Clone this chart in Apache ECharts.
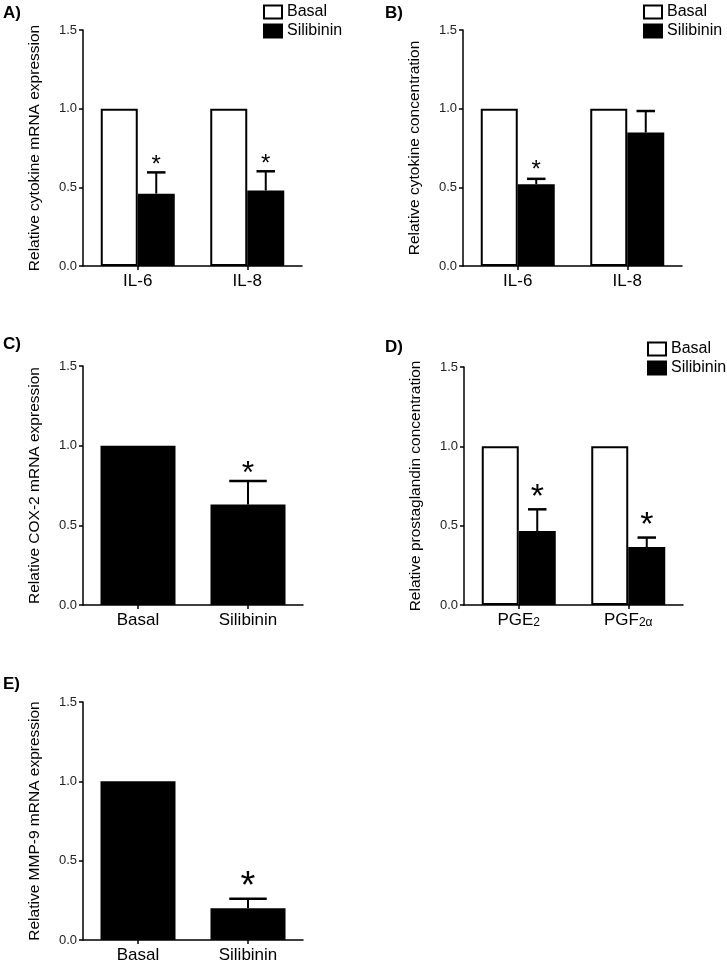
<!DOCTYPE html>
<html>
<head>
<meta charset="utf-8">
<script src="https://cdn.jsdelivr.net/npm/echarts@6/dist/echarts.min.js"></script>
<style>html,body{margin:0;padding:0;background:#fff}#c{width:727px;height:964px}</style>
</head>
<body>
<div id="c"></div>
<script>
// ---- data ----
const catsA = ['IL-6', 'IL-8'];
const basalA = [1, 1];
const siliA = [0.46, 0.48];
const errA = [0.135, 0.122];
const sigA = [1, 1];

const catsB = ['IL-6', 'IL-8'];
const basalB = [1, 1];
const siliB = [0.52, 0.848];
const errB = [0.034, 0.137];
const sigB = [1, 0];

const catsC = ['Basal', 'Silibinin'];
const valsC = [1, 0.63];
const errC = [0, 0.148];
const sigC = [0, 1];

const catsD = ['PGE2', 'PGF2α'];
const basalD = [1, 1];
const siliD = [0.466, 0.365];
const errD = [0.137, 0.06];
const sigD = [1, 1];

const catsE = ['Basal', 'Silibinin'];
const valsE = [1, 0.2];
const errE = [0, 0.06];
const sigE = [0, 1];

const yTicks = [0, 0.5, 1.0, 1.5];
const yNames = ['Relative cytokine mRNA expression', 'Relative cytokine concentration',
  'Relative COX-2 mRNA expression', 'Relative prostaglandin concentration', 'Relative MMP-9 mRNA expression'];
const panelLabels = ['A)', 'B)', 'C)', 'D)', 'E)'];

// ---- layout ----
const FONT = 'Liberation Sans, Arial, Helvetica, sans-serif';
const grids = [
  {left: 83, top: 30, width: 219, height: 236},
  {left: 463, top: 30, width: 219, height: 236},
  {left: 83, top: 366, width: 220, height: 239},
  {left: 464, top: 367, width: 219, height: 238},
  {left: 83, top: 702, width: 220, height: 238}
];

const chart = echarts.init(document.getElementById('c'), null, {renderer: 'canvas'});

function xAxis(i, cats) {
  return {
    type: 'category', gridIndex: i, data: cats,
    axisLine: {show: true, lineStyle: {color: '#000', width: 1.5}},
    axisTick: {show: true, alignWithLabel: true, length: 4, lineStyle: {color: '#000', width: 1.5}},
    axisLabel: {
      interval: 0, fontSize: 17, color: '#000', margin: 7, fontFamily: FONT,
      formatter: function (v) {
        const m = v.match(/^(PG[EF])(2.*)$/);
        return m ? m[1] + '{sub|' + m[2] + '}' : v;
      },
      rich: {sub: {fontSize: 12, color: '#000', fontFamily: FONT, verticalAlign: 'bottom', padding: [5, 0, 0, 0]}}
    },
    splitLine: {show: false}
  };
}
function yAxis(i) {
  return {
    type: 'value', gridIndex: i, min: yTicks[0], max: yTicks[yTicks.length - 1], interval: 0.5,
    name: yNames[i], nameLocation: 'middle', nameGap: 40,
    nameTextStyle: {fontSize: 15.5, color: '#000', fontFamily: FONT},
    axisLine: {show: true, lineStyle: {color: '#000', width: 1.5}},
    axisTick: {show: true, length: 4, lineStyle: {color: '#000', width: 1.5}},
    axisLabel: {fontSize: 13, color: '#222', margin: 6, fontFamily: FONT, formatter: v => v.toFixed(1)},
    splitLine: {show: false}
  };
}

const basalStyle = {color: '#fff', borderColor: '#000', borderWidth: 2};
const siliStyle = {color: '#000', borderColor: '#000', borderWidth: 2};

function errSeries(i, vals, errs, sig, offset, barW, starSize, starGap) {
  return {
    type: 'custom', xAxisIndex: i, yAxisIndex: i, z: 5,
    data: vals.map((v, k) => [k, v, errs[k], sig[k]]),
    encode: {x: 0, y: 1},
    renderItem: function (params, api) {
      const k = api.value(0), m = api.value(1), e = api.value(2), s = api.value(3);
      const base = api.coord([k, m]);
      const top = api.coord([k, m + e]);
      const x = base[0] + offset;
      const children = [];
      if (e > 0) {
        children.push({type: 'line', shape: {x1: x, y1: base[1], x2: x, y2: top[1]}, style: {stroke: '#000', lineWidth: 2}});
        children.push({type: 'line', shape: {x1: x - barW / 4, y1: top[1], x2: x + barW / 4, y2: top[1]}, style: {stroke: '#000', lineWidth: 2.5}});
      }
      if (s) {
        const cy = top[1] - starGap;
        children.push({type: 'text', style: {text: '*', x: x, y: cy + 0.22 * starSize, align: 'center', verticalAlign: 'middle',
          fontSize: starSize, fontFamily: FONT, fill: '#000'}});
      }
      return {type: 'group', children: children};
    }
  };
}

const series = [
  {name: 'Basal', type: 'bar', xAxisIndex: 0, yAxisIndex: 0, data: basalA, barWidth: 37, barGap: '0%', itemStyle: basalStyle},
  {name: 'Silibinin', type: 'bar', xAxisIndex: 0, yAxisIndex: 0, data: siliA, barWidth: 37, barGap: '0%', itemStyle: siliStyle},
  errSeries(0, siliA, errA, sigA, 18.5, 37, 24, 12),

  {name: 'Basal', type: 'bar', xAxisIndex: 1, yAxisIndex: 1, data: basalB, barWidth: 37, barGap: '0%', itemStyle: basalStyle},
  {name: 'Silibinin', type: 'bar', xAxisIndex: 1, yAxisIndex: 1, data: siliB, barWidth: 37, barGap: '0%', itemStyle: siliStyle},
  errSeries(1, siliB, errB, sigB, 18.5, 37, 24, 14),

  {name: 'COX-2', type: 'bar', xAxisIndex: 2, yAxisIndex: 2, data: valsC, barWidth: 75, itemStyle: siliStyle},
  errSeries(2, valsC, errC, sigC, 0, 75, 32, 14),

  {name: 'Basal', type: 'bar', xAxisIndex: 3, yAxisIndex: 3, data: basalD, barWidth: 37, barGap: '0%', itemStyle: basalStyle},
  {name: 'Silibinin', type: 'bar', xAxisIndex: 3, yAxisIndex: 3, data: siliD, barWidth: 37, barGap: '0%', itemStyle: siliStyle},
  errSeries(3, siliD, errD, sigD, 18.5, 37, 34, 19),

  {name: 'MMP-9', type: 'bar', xAxisIndex: 4, yAxisIndex: 4, data: valsE, barWidth: 75, itemStyle: siliStyle},
  errSeries(4, valsE, errE, sigE, 0, 75, 38, 20)
];

function legend(left, top) {
  return {
    orient: 'vertical', left: left, top: top, padding: 0, itemWidth: 18, itemHeight: 13, itemGap: 3,
    selectedMode: false, icon: 'rect', data: ['Basal', 'Silibinin'],
    textStyle: {fontSize: 16, color: '#000', fontFamily: FONT, padding: [0, 0, 0, 0]}
  };
}

const titlePos = [[3, 5], [385, 5], [3, 336], [385, 339], [3, 676]];

chart.setOption({
  backgroundColor: '#fff',
  animation: false,
  title: panelLabels.map((t, i) => ({text: t, left: titlePos[i][0], top: titlePos[i][1], padding: 0,
    textStyle: {fontSize: 17, fontWeight: 'bold', color: '#000', fontFamily: FONT}})),
  legend: [legend(263, 4), legend(643, 4), legend(647, 341)],
  grid: grids.map(g => Object.assign({containLabel: false}, g)),
  xAxis: [xAxis(0, catsA), xAxis(1, catsB), xAxis(2, catsC), xAxis(3, catsD), xAxis(4, catsE)],
  yAxis: [yAxis(0), yAxis(1), yAxis(2), yAxis(3), yAxis(4)],
  series: series
});
</script>
</body>
</html>
